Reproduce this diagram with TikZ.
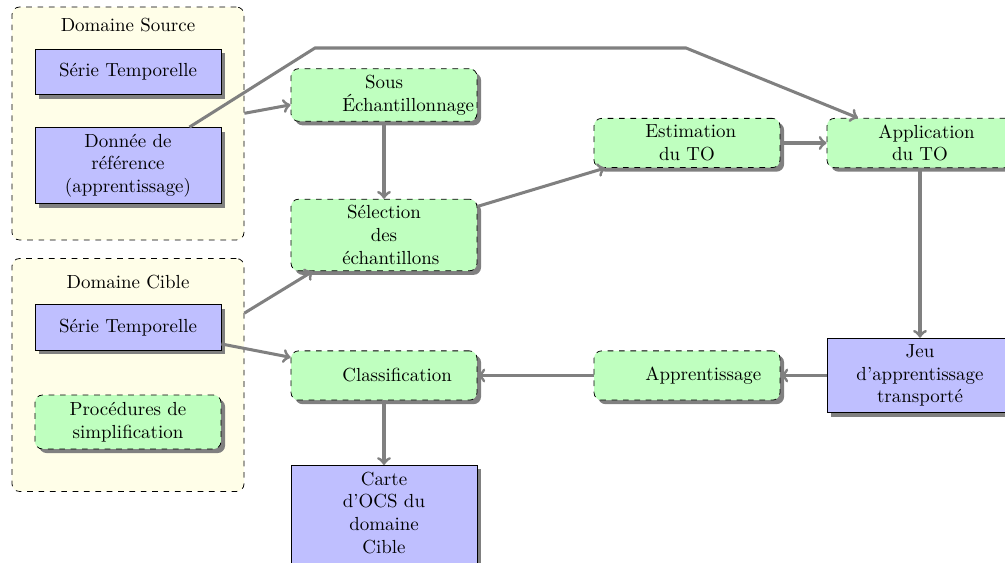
\documentclass[tikz,border=0pt]{standalone}
\usetikzlibrary{shadows,calc}
\begin{document}
\lefthyphenmin=62
\righthyphenmin=62
\hyphenpenalty=10000
\exhyphenpenalty=10000
\begin{tikzpicture}[x=0.528pt,y=-0.528pt,
  shadowstyle/.style={drop shadow={fill=black!50, opacity=1}},
  container/.style={draw, dashed, rounded corners=4pt, fill=yellow!9, minimum width=122.5pt, minimum height=123pt, inner sep=0pt},
  proc/.style={draw, dashed, rounded corners=4pt, fill=green!25, shadowstyle, align=center, minimum width=98.2pt, minimum height=26pt, inner sep=3.33pt},
  procw/.style={proc, text width=44pt},
  data/.style={draw, fill=blue!25, shadowstyle, align=center, minimum width=98.2pt, minimum height=24pt},
  arr/.style={->, draw=gray, line width=1.6pt}]
\useasboundingbox (0,0) rectangle (1005,563);
\clip (0,0) rectangle (1005,563);
% containers
\node[container] (srcdom) at (128,123.5) {};
\node (srclab) at (128,25) {Domaine Source};
\node[container] (cibdom) at (128,375) {};
\node (ciblab) at (128,282) {Domaine Cible};
% source domain
\node[data] (st1) at (128,72) {Série Temporelle};
\node[data] (don) at (128,165.5) {Donnée de\\référence\\(apprentissage)};
% target domain
\node[data] (st2) at (128,327.5) {Série Temporelle};
\node[proc, minimum height=28.5pt] (proced) at (128,422) {Procédures de\\simplification};
% processes
\node[procw, minimum height=27.5pt] (sous) at (384,95) {Sous Échantillonnage};
\node[procw] (sel) at (384,235) {Sélection des échantillons};
\node[procw] (est) at (687,143) {Estimation du TO};
\node[procw] (app) at (920,143) {Application du TO};
\node[procw] (cls) at (384,375.5) {Classification};
\node[procw] (appr) at (687,375.5) {Apprentissage};
\node[data] (jeu) at (920,375.5) {Jeu\\d'apprentissage\\transporté};
\node[data, text width=44pt, anchor=north] (carte) at (384,465) {Carte d'OCS du domaine Cible\\[4pt]\mbox{}};
% connectors
\coordinate (c1) at (315,48);
\coordinate (c2) at (686,48);
\draw[arr] (don.32.5) -- (c1) -- (c2) -- (app.158.7);
\draw[arr] (srcdom.5.7) -- (sous.186.7);
\draw[arr] (sous.south) -- (sel.north);
\draw[arr] (sel.17) -- (est.197.3);
\draw[arr] (cibdom.28.9) -- (sel.207.5);
\draw[arr] (st2.-10.7) -- (cls.169.3);
\draw[arr] (est.east) -- (app.west);
\draw[arr] (app.south) -- (jeu.north);
\draw[arr] (jeu.west) -- (appr.east);
\draw[arr] (appr.west) -- (cls.east);
\draw[arr] (cls.south) -- (carte.north);
\end{tikzpicture}
\end{document}
